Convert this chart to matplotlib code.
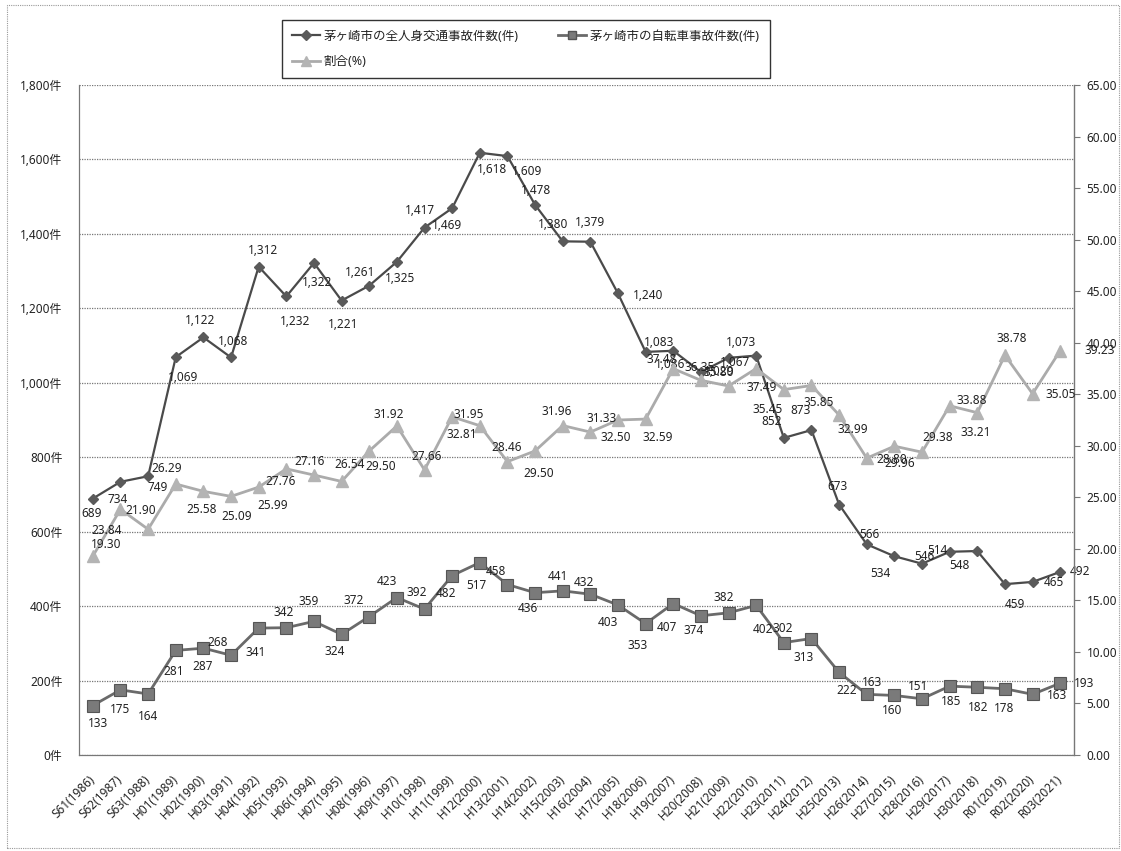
import matplotlib
matplotlib.use('Agg')
import matplotlib.pyplot as plt
from matplotlib.lines import Line2D
from matplotlib.patches import Rectangle
from matplotlib.ticker import FuncFormatter

plt.rcParams['font.family'] = ['Noto Sans', 'Noto Sans CJK JP', 'DejaVu Sans']

years = ['S61(1986)', 'S62(1987)', 'S63(1988)', 'H01(1989)', 'H02(1990)', 'H03(1991)',
         'H04(1992)', 'H05(1993)', 'H06(1994)', 'H07(1995)', 'H08(1996)', 'H09(1997)',
         'H10(1998)', 'H11(1999)', 'H12(2000)', 'H13(2001)', 'H14(2002)', 'H15(2003)',
         'H16(2004)', 'H17(2005)', 'H18(2006)', 'H19(2007)', 'H20(2008)', 'H21(2009)',
         'H22(2010)', 'H23(2011)', 'H24(2012)', 'H25(2013)', 'H26(2014)', 'H27(2015)',
         'H28(2016)', 'H29(2017)', 'H30(2018)', 'R01(2019)', 'R02(2020)', 'R03(2021)']

total_accidents = [689, 734, 749, 1069, 1122, 1068, 1312, 1232, 1322, 1221, 1261, 1325,
                   1417, 1469, 1618, 1609, 1478, 1380, 1379, 1240, 1083, 1086, 1029, 1067,
                   1073, 852, 873, 673, 566, 534, 514, 546, 548, 459, 465, 492]
bicycle_accidents = [133, 175, 164, 281, 287, 268, 341, 342, 359, 324, 372, 423,
                     392, 482, 517, 458, 436, 441, 432, 403, 353, 407, 374, 382,
                     402, 302, 313, 222, 163, 160, 151, 185, 182, 178, 163, 193]
ratio = [19.30, 23.84, 21.90, 26.29, 25.58, 25.09, 25.99, 27.76, 27.16, 26.54, 29.50, 31.92,
         27.66, 32.81, 31.95, 28.46, 29.50, 31.96, 31.33, 32.50, 32.59, 37.48, 36.35, 35.80,
         37.49, 35.45, 35.85, 32.99, 28.80, 29.96, 29.38, 33.88, 33.21, 38.78, 35.05, 39.23]

legend_names = ['茅ヶ崎市の全人身交通事故件数(件)', '茅ヶ崎市の自転車事故件数(件)', '割合(%)']

# label offsets in pixels (dx, dy) - placed by hand like the original
total_off = [(-1, -15), (-3, -18), (10, -11), (7, -20), (-3, 17), (2, 16), (4, 16), (9, -25),
             (3, -20), (1, -24), (-9, 13), (3, -17), (-5, 17), (-5, -17), (12, -17), (20, -15),
             (1, 14), (-10, 17), (0, 19), (30, -2), (13, 9), (-3, -14), (18, 0), (6, -5),
             (-15, 13), (-12, 16), (-11, 20), (-2, 18), (3, 10), (-14, -17), (15, 13), (-25, -5),
             (-18, -14), (10, -20), (21, -1), (20, 0)]
bike_off = [(5, -18), (0, -20), (0, -23), (-2, -21), (-1, -18), (-13, 13), (-3, -24), (-3, 15),
            (-5, 20), (-7, -17), (-16, 16), (-10, 16), (-8, 17), (-6, -18), (-3, -23), (-11, 13),
            (-7, -16), (-5, 14), (-6, 12), (-10, -17), (-8, -22), (-6, -24), (-7, -15), (-5, 15),
            (7, -24), (-1, 14), (-8, -19), (8, -18), (5, 12), (-2, -15), (-4, 12), (1, -15),
            (1, -20), (-1, -20), (24, -1), (24, 0)]
ratio_off = [(13, 12), (-14, -21), (-7, 19), (-9, 16), (-2, -18), (6, -20), (14, -18), (-6, -13),
             (-4, 14), (8, 17), (11, -16), (-8, 11), (2, 13), (10, -18), (-11, 11), (-1, 14),
             (4, -23), (-6, 14), (11, 14), (-2, -17), (12, -18), (-12, 9), (-1, 13), (-10, 13),
             (6, -19), (-16, -20), (7, -17), (14, -15), (25, -1), (5, -17), (16, 15), (22, 5),
             (-2, -20), (7, 17), (28, -1), (40, 0)]

c_total = '#4a4a4a'
c_bike = '#6a6a6a'
c_ratio = '#ababab'
grid_c = '#777777'

fig = plt.figure(figsize=(11.21, 8.51), dpi=100)
ax = fig.add_axes([0.0705, 0.1128, 0.8876, 0.7873])
ax2 = ax.twinx()

x = list(range(len(years)))

ax.plot(x, total_accidents, color=c_total, lw=1.6, marker='D', ms=5.5,
        mfc='#5a5a5a', mec='#5a5a5a', zorder=3)
ax.plot(x, bicycle_accidents, color=c_bike, lw=2.0, marker='s', ms=8,
        mfc='#7a7a7a', mec='#555555', mew=0.8, zorder=3)
ax2.plot(x, ratio, color=c_ratio, lw=2.0, marker='^', ms=8,
         mfc='#b4b4b4', mec='#b4b4b4', zorder=3)

lab_kw = dict(textcoords='offset pixels', ha='center', va='center',
              fontsize=8.5, color='#222222', zorder=5)
for i in x:
    ax.annotate('{:,}'.format(total_accidents[i]), (i, total_accidents[i]),
                xytext=total_off[i], **lab_kw)
    ax.annotate(str(bicycle_accidents[i]), (i, bicycle_accidents[i]),
                xytext=bike_off[i], **lab_kw)
    ax2.annotate('{:.2f}'.format(ratio[i]), (i, ratio[i]),
                 xytext=ratio_off[i], annotation_clip=False, **lab_kw)

ax.set_xlim(-0.5, len(years) - 0.5)
ax.set_ylim(0, 1800)
ax.set_yticks(range(0, 1801, 200))
ax.yaxis.set_major_formatter(FuncFormatter(lambda v, p: '{:,}件'.format(int(v))))
ax.tick_params(axis='y', length=0, pad=12, labelsize=8.5, labelcolor='#222222')
ax.set_xticks(x)
ax.set_xticklabels(years, rotation=45, ha='right', va='center',
                   rotation_mode='anchor', fontsize=8.5, color='#222222')
ax.tick_params(axis='x', length=0, pad=16)
ax.grid(axis='y', color=grid_c, ls=(0, (1, 1)), lw=0.9)
ax.set_axisbelow(True)

ax2.set_ylim(0, 65)
ax2.set_yticks(range(0, 66, 5))
ax2.yaxis.set_major_formatter(FuncFormatter(lambda v, p: '{:.2f}'.format(v)))
ax2.tick_params(axis='y', length=4, width=0.8, color='#777777', pad=5,
                labelsize=8.5, labelcolor='#222222')

for a in (ax, ax2):
    a.spines['top'].set_visible(False)
    a.spines['left'].set_linestyle((0, (1, 1)))
    a.spines['left'].set_color(grid_c)
    a.spines['bottom'].set_linestyle((0, (1, 1)))
    a.spines['bottom'].set_color(grid_c)
    a.spines['right'].set_color('#777777')
    a.spines['right'].set_linewidth(1.0)
ax.spines['right'].set_visible(False)

handles = [
    Line2D([], [], color=c_total, lw=1.6, marker='D', ms=5, mfc='#5a5a5a', mec='#5a5a5a'),
    Line2D([], [], color=c_ratio, lw=2.0, marker='^', ms=7, mfc='#b4b4b4', mec='#b4b4b4'),
    Line2D([], [], color=c_bike, lw=2.0, marker='s', ms=6, mfc='#7a7a7a', mec='#555555'),
]
names = [legend_names[0], legend_names[2], legend_names[1]]
leg = fig.legend(handles, names, ncol=2, loc='upper left',
                 bbox_to_anchor=(0.246, 0.984), frameon=True, fancybox=False,
                 edgecolor='black', fontsize=9, handlelength=2.2, handletextpad=0.3,
                 columnspacing=3.2, labelspacing=1.0, borderpad=0.8)
leg.get_frame().set_linewidth(1.0)
for t in leg.get_texts():
    t.set_color('#222222')

fig.patches.append(Rectangle((0.006, 0.003), 0.992, 0.991, transform=fig.transFigure,
                             fill=False, ec='#999999', lw=0.8, ls=(0, (1, 1))))

fig.savefig('out.png', dpi=100)
